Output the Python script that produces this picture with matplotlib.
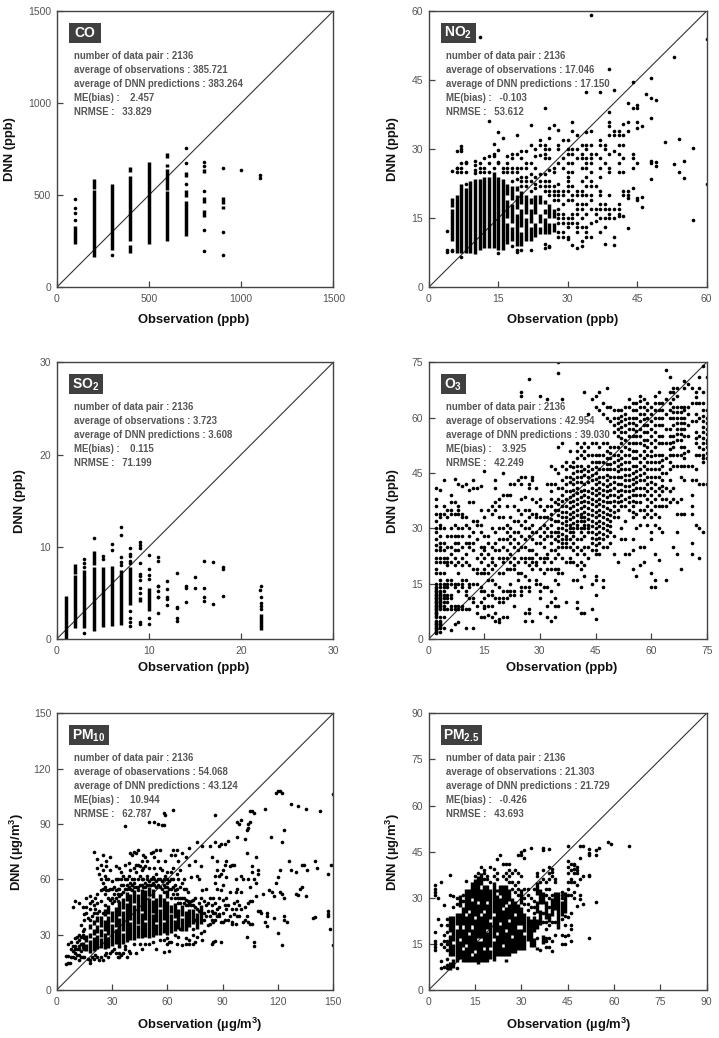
"""Observation vs DNN scatter panels for six air pollutants."""
import matplotlib
matplotlib.use("Agg")
import matplotlib.pyplot as plt
from matplotlib.patches import Rectangle

plt.rcParams["font.family"] = ["Liberation Sans", "DejaVu Sans"]
plt.rcParams["mathtext.fontset"] = "custom"
plt.rcParams["mathtext.rm"] = "Liberation Sans"
plt.rcParams["mathtext.bf"] = "Liberation Sans:bold"

FIG_W, FIG_H = 719, 1038
DOT = 2.6
BAR = 2.5

# solid runs of overlapping dots: (obs, low, high)
co_runs = [(100, 235, 335), (200, 165, 530), (200, 535, 590), (300, 205, 560),
           (400, 185, 230), (400, 250, 605), (400, 625, 655), (500, 235, 680),
           (600, 250, 525), (600, 530, 640), (600, 655, 670), (600, 700, 730),
           (700, 280, 470), (700, 490, 530), (700, 600, 625),
           (800, 380, 420), (800, 456, 490), (800, 620, 640), (900, 425, 440), (900, 450, 490)]
co_points = {100: [365, 402, 429, 480], 300: [175], 700: [560, 673, 755],
             800: [195, 310, 523, 660, 678], 900: [175, 300, 645], 1000: [635], 1100: [595, 607]}

no2_runs = [(5, 10, 17), (5, 17.5, 19.5), (6, 7.5, 20), (7, 7.5, 22.5), (8, 7.5, 21.5), (9, 7.5, 23),
            (10, 7.2, 23.5), (11, 8, 23.5), (12, 8.5, 24), (13, 8.5, 24), (14, 8.5, 25), (15, 8, 24),
            (16, 8, 23.5), (17, 9.5, 14), (17, 15, 19), (17, 20, 22.5), (18, 10, 13), (18, 14, 18), (18, 19, 22),
            (19, 9, 16), (19, 17, 20), (19, 21, 22), (20, 9, 12), (20, 13, 17), (20, 18, 21), (21, 10, 15),
            (21, 16, 20), (22, 10, 13), (22, 14, 17), (22, 18, 19.5), (23, 11, 14), (23, 16, 20), (24, 11.5, 13),
            (24, 14, 16), (24, 18, 20), (25, 11.5, 15), (25, 16, 17), (25, 18, 19), (26, 11.5, 14), (26, 15, 18),
            (27, 12, 14), (27, 15, 17)]
no2_points = {
    4: [7.7, 8, 12.3], 5: [7.8, 8, 25.3], 6: [25, 25.8, 26, 29.6],
    7: [6.6, 25, 26, 27, 29.5, 30, 30.7], 8: [22.4, 25, 27, 27.3], 10: [24.8, 25.5, 26.5, 27.5],
    11: [25, 26, 27, 54.3], 12: [25, 26, 28], 13: [25, 27, 28.5, 36.2], 14: [26, 28.5, 29, 31.2],
    15: [7.5, 27, 27.3, 29.8, 33.8], 16: [25, 26, 32.5], 17: [25, 26, 27, 28.5],
    18: [9, 23, 25, 26, 28, 29], 19: [7.7, 8.2, 23.5, 25, 26, 29, 33], 20: [8.2, 22, 23, 24, 26, 28, 29.5],
    21: [22, 23, 24, 26, 27, 29.7], 22: [8.2, 21, 23, 24.5, 27, 31, 35.3], 23: [21.5, 22.5, 24, 26, 28.5, 30],
    24: [22, 23, 24.7, 28.7, 31, 32], 25: [8.5, 9.5, 21, 22, 23, 24.5, 28, 29, 30, 31, 39],
    26: [8.8, 9, 20, 21, 22, 23, 25.5, 28, 30, 32.5, 34.5], 27: [19, 20, 21, 22, 25, 26, 35.2],
    28: [11, 12, 14, 15, 16, 17, 19, 20, 21, 22.5, 27, 30, 31, 34.2],
    29: [11, 12, 14, 15, 16, 18, 20, 21, 26, 28, 32],
    30: [10.5, 11, 13, 14, 15, 19, 21, 22, 23, 24, 25, 27, 29, 30, 32],
    31: [9.2, 14, 15, 16, 19, 20, 22, 25, 27, 29, 30, 34, 36],
    32: [8.5, 12, 13, 14, 16, 17, 18, 20, 21, 28, 30, 33],
    33: [9, 10, 13, 15, 17, 18, 20, 21, 23, 26, 28, 29, 31],
    34: [11, 12, 13, 16, 18, 20, 22, 24, 26, 27, 28, 30, 31, 33.8, 42.5],
    35: [11, 14, 17, 19, 20, 22, 23, 25, 27, 28, 29, 31, 34, 59.2], 36: [14.5, 16, 17, 22, 29],
    37: [12, 15, 17, 18, 20, 21, 24, 26, 28, 31, 32, 42.5], 38: [9.3, 13, 15, 17, 18, 27, 30, 31],
    39: [15, 16, 17, 20, 25, 26, 29, 33, 35, 36, 38, 47.5], 40: [9.2, 11, 15, 17, 29.5, 33, 34, 42.8],
    41: [15.5, 16, 17, 18, 25, 27, 29, 31, 33, 34], 42: [15.5, 20, 21, 25, 28, 31, 33, 35.5],
    43: [12.8, 19.5, 20, 21, 34, 36, 40], 44: [21.5, 26, 28, 29, 39, 44.5],
    45: [19, 19.5, 27, 34.5, 36, 39, 39.5], 46: [17.5, 19.7, 35], 47: [42],
    48: [23.5, 27, 27.5, 36.7, 41, 45.5], 49: [26.3, 27.3, 40.7], 51: [31.5], 53: [26.7, 50],
    54: [25, 32.2], 55: [23.7, 27.5], 57: [14.6, 30.3], 60: [22.5, 54]}

so2_runs = [(1, 0, 4.7), (2, 1.2, 6.9), (2, 7.1, 8.1), (3, 1.2, 7.5), (4, 0.9, 7.8), (4, 8, 9.5),
            (5, 1.3, 7.8), (6, 1.4, 7.9), (7, 1.5, 7.5), (8, 3.7, 7.8), (9, 4, 4.6), (10, 3, 5.5),
            (22.2, 1, 2.7)]
so2_points = {
    3: [0.7, 7.8, 8.2, 8.7], 4: [10.9], 5: [8.7, 9], 6: [9.6, 10.3], 7: [8, 8.4, 8.9, 11.3, 12.1],
    8: [1.4, 1.8, 2.3, 3, 8.2, 8.5, 9, 9.2, 9.9], 9: [1.6, 1.8, 5, 5.5, 6.4, 6.8, 7.1, 8.2, 9.9, 10.2, 10.5],
    10: [1.6, 2.3, 6.5, 6.9, 7.6, 9.1], 11: [2.8, 4.5, 4.6, 5.2, 5.7, 5.8, 8.5, 8.9],
    12: [3.7, 4.3, 4.6, 5.4, 6.3], 13: [2, 2.3, 3.4, 3.5, 7.2], 14: [4, 5.5, 5.7], 15: [5.5, 6.7],
    16: [4.1, 4.5, 5.5, 8.5], 17: [3.8, 8.4], 18: [4.7, 7.6, 7.8], 22: [5.3], 22.2: [3.3, 3.6, 3.9, 4.5, 5.7]}

o3_runs = [(2, 2, 5), (2, 6, 14), (3, 3, 5), (3, 8, 13)]
o3_points = {
    2: [41, 38, 36, 34, 32, 30, 29, 27, 25.5, 24, 22, 21, 19, 18, 15, 14, 13, 12, 11, 10, 9, 8, 7, 6, 5, 4, 3, 2, 1.5],
    3: [40.5, 34, 33, 31, 30, 28, 26, 25, 24, 22, 21, 18, 16, 15, 14, 13, 12, 11, 10, 9, 8, 6, 5, 4, 3, 2],
    4: [43, 36, 34, 30, 26, 24, 22, 21, 18, 15, 14, 13, 12, 11, 10, 9, 8, 6, 3],
    5: [35, 33, 28, 25, 22, 21, 20, 16, 15, 14, 12, 11, 10, 8],
    6: [39, 37, 35, 34, 30, 28, 25, 23, 21, 16, 15, 12, 11, 9, 8, 2.5],
    7: [43.5, 37, 34, 31, 28, 26, 24, 22, 20, 15, 14, 9, 8, 4],
    8: [42, 36, 35, 34, 30, 28, 26, 24, 21, 18, 15, 13, 9, 8, 4.5],
    9: [41.5, 34, 33, 30, 28, 25, 22, 20, 16, 15, 14, 9, 8],
    10: [42, 33, 31, 26, 23, 21, 16, 13, 12, 8, 3],
    11: [40.5, 37, 30, 28, 26, 25, 20, 15, 14, 11, 8],
    12: [43, 41, 37, 32, 29, 26, 24, 19, 15, 11, 10, 3],
    13: [41, 32, 31, 27, 22, 19, 18, 15, 9, 7],
    14: [41.5, 35, 31, 29, 25, 23, 21, 18, 14, 13, 10, 6],
    15: [45.5, 33, 28, 25, 24, 22, 19, 18, 13, 11, 9, 8.5, 6],
    16: [35, 28, 26, 23, 20, 18, 16, 12, 9, 6.5],
    17: [36, 34, 30, 25, 22, 21, 19, 16, 13, 12, 9, 6],
    18: [43, 41, 37, 35, 29, 26, 24, 20, 15, 11, 7, 5],
    19: [38, 36, 33, 30, 27, 24, 22, 18, 14, 11, 10, 5.5, 4.5],
    20: [45, 39, 33, 30, 27, 25, 22, 21, 18, 13, 11, 10, 6],
    21: [39, 36, 31, 29, 27, 24, 22, 19, 13, 11, 6],
    22: [42, 39, 33, 30, 28, 26, 23, 21, 19, 15, 13, 12],
    23: [42, 36, 32, 29, 27, 25, 22, 20, 19, 13, 12, 9],
    24: [43, 35, 32, 29, 26, 24, 21, 18, 16],
    25: [67, 66, 44, 42, 38, 34, 31, 28, 25, 22, 18, 14, 13, 12],
    26: [44, 38.5, 35, 32, 30, 27, 25, 22, 21, 17, 14, 7, 5],
    27: [70.5, 42, 41, 35, 33, 30, 28, 24, 22, 20, 16, 14, 13, 8, 7],
    28: [44, 43, 38, 34, 31, 29, 27, 24, 22, 21, 19, 5],
    29: [41, 37, 34, 33, 29, 26, 23, 21, 20, 16, 15],
    30: [66, 38, 36, 33, 30, 28, 26, 22, 19, 15, 13, 11, 7],
    31: [35, 33, 31, 29, 27, 25, 22, 21, 18, 14],
    32: [65, 42, 36, 33, 30, 28, 23, 22, 19, 14, 9, 6],
    33: [47, 42, 40, 38, 36, 34, 32.5, 31, 29, 28, 26, 24, 21, 19, 13, 10, 5],
    34: [46, 42, 37, 35, 32, 29, 27, 24, 22, 19, 16, 11, 9, 6],
    35: [75, 72, 52, 45, 41, 38, 36.5, 35, 33.5, 32, 30, 29, 28, 26.5, 25, 23, 19, 18, 15, 9],
    36: [65, 53, 47, 43, 41, 39, 37.5, 36, 34.5, 33, 31.5, 30, 28.5, 27, 26, 25, 22, 18],
    37: [48, 46, 44, 42, 40, 38, 36, 34.5, 33, 32, 31, 29.5, 28, 27, 26, 25, 21, 10],
    38: [51, 47, 44, 42.5, 40, 38.5, 37, 35.5, 34, 32.5, 31, 30, 29, 27, 25, 22, 21],
    39: [48, 46.5, 45, 43.5, 42, 40.5, 39, 37.5, 36, 34.5, 33, 31.5, 30, 29, 28, 26, 24, 21, 16],
    40: [53, 51, 49, 47, 45.5, 44, 42.5, 41, 39.5, 38, 36.5, 35, 33.5, 32, 31, 30, 27, 25, 23, 20, 16, 10, 8.5],
    41: [52, 50, 47, 45.5, 44, 42.5, 40, 38.5, 37, 35.5, 34, 33, 32, 30, 29, 27, 24, 21, 19, 14, 7],
    42: [67, 53, 51, 49, 46, 44.5, 42, 40.5, 39, 37.5, 36, 34.5, 33, 32, 31, 30, 28, 25, 23, 20, 17, 7],
    43: [61, 52, 50, 47, 45.5, 44, 42.5, 40, 38.5, 37, 35.5, 34, 32.5, 31, 30, 29, 25, 22],
    44: [65, 53, 50, 48, 46, 44.5, 43, 41, 39.5, 38, 36.5, 35, 33.5, 32, 30.5, 29, 27.5, 26, 24, 15, 8],
    45: [66, 63, 53, 50, 48, 46.5, 45, 43.5, 42, 40.5, 39, 37.5, 36, 34.5, 33, 31.5, 30, 28.5, 27, 25.5, 24, 23, 17, 16, 12, 5.5],
    46: [67, 62, 52, 50, 48, 46, 44, 42.5, 41, 39.5, 38, 36.5, 35, 33.5, 32, 30.5, 29, 27.5, 26, 23],
    47: [64, 61, 53, 50, 48, 46, 44, 42, 40.5, 39, 37.5, 36, 34.5, 33, 31.5, 30, 28.5, 27, 25, 16, 14],
    48: [68, 63, 60, 53, 51, 49, 47.5, 46, 44.5, 43, 41.5, 40, 38.5, 37, 35.5, 34, 32.5, 31, 29.5, 28, 25],
    49: [63, 59, 52, 50.5, 49, 47.5, 46, 44, 42, 40.5, 39, 37, 35, 33.5, 32, 30.5, 29, 26],
    50: [62, 60, 58, 56, 52, 50, 48, 46, 44, 42.5, 41, 39, 37.5, 36, 34.5, 33, 28, 23],
    51: [62, 60, 58.5, 57, 55, 52, 50, 48.5, 47, 45.5, 44, 42, 40, 38.5, 37, 35, 33, 21],
    52: [62, 60.5, 59, 57.5, 56, 54.5, 53, 51, 49, 47.5, 46, 44, 42, 40.5, 39, 37.5, 36, 30, 27],
    53: [63, 61, 59.5, 58, 56, 54, 52, 50, 48, 46, 44.5, 43, 41.5, 40, 38, 36, 32, 27, 23],
    54: [65, 63, 60, 58.5, 57, 55, 53, 51.5, 50, 48, 46, 44.5, 43, 41.5, 40, 38.5, 37, 35, 23],
    55: [64, 62, 60, 58.5, 57, 55, 53, 51, 49, 47, 45, 43.5, 42, 40.5, 39, 37.5, 36, 34.5, 33, 27, 24, 19],
    56: [64, 62, 60, 58, 56.5, 55, 53, 51, 49, 47, 45.5, 44, 42.5, 41, 39, 37, 34, 30, 17],
    57: [66, 64.5, 63, 61, 59, 57, 55, 53, 50, 48, 46, 44.5, 43, 41, 39, 37, 35, 31, 25, 20],
    58: [65, 63, 61, 59.5, 58, 56, 54, 52.5, 51, 49, 47, 45, 43, 41, 39, 35, 33, 25, 21],
    59: [64, 62, 60, 58, 56, 54, 52, 50, 48, 46, 44, 42, 40, 38, 36, 34, 31],
    60: [63, 61, 59, 57, 55, 53, 51, 49.5, 48, 46, 44, 42.5, 41, 39, 37, 35, 33, 29, 27, 18, 14],
    61: [66, 64, 62, 60, 58, 56, 54, 52, 50, 48, 46, 44, 42, 40, 38, 36, 34, 31, 23, 16, 14],
    62: [67, 64, 62, 60, 58, 55, 53, 50, 48, 46, 44, 41, 39, 36, 33, 30, 21.5],
    63: [64, 62, 60, 58, 55, 53, 50, 48.5, 47, 45, 43, 41.5, 40, 38, 36, 29],
    64: [73, 65, 61, 57, 53, 49, 45, 41, 38, 36, 16],
    65: [71, 67, 64, 62, 60, 57, 55, 53, 51.5, 50, 48, 46, 43, 40, 37],
    66: [68, 67, 65, 63, 61.5, 60, 58, 55, 53.5, 52, 50, 47, 41, 38, 25],
    67: [68, 66, 63, 61.5, 60, 58.5, 57, 55.5, 54, 50, 47, 37, 34, 29, 23],
    68: [63, 61.5, 60, 58.5, 57, 55.5, 54, 52, 50, 47, 44, 38, 34, 19],
    69: [70, 68, 63, 62, 60, 58.5, 57, 55, 52, 50.5, 49, 47, 43, 34],
    70: [69, 63, 61, 58, 55, 51, 47],
    71: [68, 64, 59, 47, 43, 39, 36, 34, 26, 23],
    72: [67, 65.5, 64, 61, 59, 56, 54.5, 53, 50, 46, 43, 31],
    73: [71, 68, 64, 60, 55, 52, 50, 42, 30, 22],
    74: [74, 67, 64, 62, 60.5, 59, 57.5, 56, 54.5, 53, 51.5, 50, 49, 48, 42, 29],
    75: [71, 62, 60, 58.5, 57, 55.5, 54, 53, 52, 50.5, 49, 42]}

pm10_runs = [(14, 22, 26), (16, 21, 25), (16, 26, 30), (18, 20, 27), (18, 28, 31), (18, 33, 36), (20, 21, 29),
             (20, 30, 33), (20, 35, 38), (22, 22, 30), (22, 31, 35), (22, 37, 40), (24, 23, 28), (24, 29, 33),
             (24, 34, 40), (26, 22, 31), (26, 32, 38), (26, 40, 44), (28, 23, 29), (28, 30, 40), (28, 41, 46),
             (30, 24, 36), (30, 37, 43), (32, 25, 33), (32, 34, 45), (34, 23, 39), (34, 40, 48), (36, 25, 31),
             (36, 32, 43), (36, 44, 50), (38, 26, 47), (38, 48, 53), (40, 27, 37), (40, 38, 52), (42, 27, 46),
             (42, 47, 54), (44, 28, 35), (44, 36, 52), (46, 28, 42), (46, 43, 55), (48, 29, 37), (48, 38, 54),
             (50, 28, 50), (50, 51, 56), (52, 29, 41), (52, 42, 49), (52, 50, 55), (54, 30, 36), (54, 37, 50),
             (56, 30, 44), (56, 45, 52), (58, 31, 37), (58, 38, 50), (60, 30, 48), (60, 50, 54), (62, 31, 41),
             (62, 42, 46), (64, 32, 38), (64, 39, 47), (66, 33, 44), (68, 32, 39), (68, 40, 46), (70, 32, 43),
             (72, 34, 44), (74, 36, 44), (76, 33, 42), (78, 36, 46)]
pm10_points = [
    (5, 14), (6, 14.5), (7, 14.5), (5, 18.5), (6, 18.5), (6, 25), (8, 18), (8, 22), (8, 26), (9, 18), (9, 21), (9, 24),
    (9, 45), (10, 17.5), (10, 20), (10, 22), (10, 24), (10, 28), (10, 48), (11, 19), (11, 22), (11, 26), (11, 29),
    (12, 16), (12, 19), (12, 22), (12, 24), (12, 27), (12, 30), (12, 47), (13, 18), (13, 21), (13, 25), (13, 29),
    (13, 35), (14, 18), (14, 30), (14, 32), (14, 45), (15, 18), (15, 22), (15, 28), (15, 33), (15, 38),
    (15, 41), (16, 50), (16, 45), (16, 42), (17, 17), (17, 39), (18, 14.5), (18, 16), (18, 38), (18, 44), (18, 47),
    (18, 51), (19, 18), (19, 40), (19, 48), (20, 75), (20, 17), (20, 42), (20, 46), (21, 19), (21, 50), (21, 44),
    (22, 71), (22, 66), (22, 18), (22, 42), (22, 47), (22, 52), (23, 16.5), (23, 63), (23, 43), (24, 68), (24, 60),
    (24, 54), (24, 18), (24, 48), (25, 73), (25, 65), (25, 58), (25, 55), (25, 42), (25, 16), (26, 52), (26, 56),
    (26, 62), (26, 19), (26, 46), (27, 70), (27, 67), (27, 60), (27, 54), (27, 20), (28, 18), (28, 50), (28, 54),
    (28, 60), (29, 72), (29, 65), (29, 55), (29, 20), (29, 49), (30, 59), (30, 55), (30, 50), (30, 21), (30, 47),
    (31, 22), (31, 48), (31, 52), (31, 56), (32, 67), (32, 60), (32, 54), (32, 20), (32, 50), (33, 18), (33, 60),
    (33, 55), (33, 52), (33, 48), (34, 66), (34, 20), (34, 55), (34, 51), (34, 18), (35, 64), (35, 60), (35, 57),
    (35, 52), (35, 19), (36, 62), (36, 57), (36, 53), (36, 20), (37, 89), (37, 68), (37, 60), (37, 55), (37, 24),
    (37, 22), (38, 60), (38, 57), (38, 55), (38, 18), (39, 69), (39, 21), (39, 62), (39, 56), (40, 74), (40, 65),
    (40, 58), (40, 55), (40, 20), (41, 73), (41, 60), (41, 57), (41, 54), (42, 75), (42, 66), (42, 60), (42, 58),
    (42, 56), (42, 25), (43, 20), (43, 56), (43, 64), (43, 68), (43, 74), (44, 76), (44, 68), (44, 60), (44, 56),
    (44, 54), (45, 67), (45, 62), (45, 57), (45, 25), (46, 22), (46, 70), (46, 65), (46, 60), (46, 57), (47, 73),
    (47, 66), (47, 60), (47, 56), (48, 72), (48, 67), (48, 58), (48, 56), (48, 25), (49, 70), (49, 62), (49, 60),
    (49, 57), (50, 91), (50, 66), (50, 59), (50, 57), (50, 25), (51, 74), (51, 60), (51, 57), (52, 75), (52, 61),
    (52, 58), (52, 26), (53, 91), (53, 72), (53, 66), (53, 60), (53, 57), (54, 22), (54, 76), (54, 63), (54, 59),
    (54, 56), (55, 90), (55, 70), (55, 60), (55, 57), (56, 76), (56, 66), (56, 60), (56, 56), (56, 27), (57, 89.5),
    (57, 65), (57, 59), (57, 55), (58, 96), (58, 89.5), (58, 60), (58, 57), (58, 53), (58, 27), (58, 20.5), (59, 95),
    (59, 70), (59, 62), (59, 56), (60, 64), (60, 60), (60, 58), (60, 56), (60, 28), (60, 25), (61, 59), (61, 55),
    (61, 21), (61, 26), (62, 73), (62, 64), (62, 60), (62, 55), (62, 50), (62, 26), (63, 97.5), (63, 76), (63, 66),
    (63, 60), (63, 56), (63, 52), (64, 73), (64, 57), (64, 54), (64, 50), (64, 30), (65, 76), (65, 63), (65, 55),
    (65, 52), (65, 25), (66, 70), (66, 60), (66, 50), (66, 47), (66, 29), (67, 65), (67, 56), (67, 50), (67, 47),
    (67, 33), (68, 74), (68, 58), (68, 50), (68, 24.5), (69, 60), (69, 55), (69, 50), (69, 47), (70, 72), (70, 55),
    (70, 49), (70, 46), (70, 28), (70, 25), (71, 53), (71, 48), (71, 46), (72, 77), (72, 68), (72, 47), (72, 27),
    (72, 25), (73, 61), (73, 48), (73, 46), (74, 49), (74, 46), (74, 33), (74, 30), (74, 25), (75, 70), (75, 50),
    (75, 45), (75, 38), (75, 26), (76, 80), (76, 62), (76, 44), (76, 29), (77, 60), (77, 47), (77, 43), (78, 67),
    (78, 50), (78, 42), (78, 31), (79, 78), (79, 54), (79, 27), (80, 48), (80, 42), (80, 38), (80, 32), (81, 55),
    (81, 46), (81, 40), (82, 47), (82, 43), (82, 35), (83, 78), (83, 50), (83, 40), (83, 36), (84, 46), (84, 72),
    (84, 38), (84, 25), (84, 43), (85, 26), (85, 42), (85, 37), (85, 50), (86, 95), (86, 80), (86, 62), (86, 58),
    (86, 47), (86, 42), (86, 38), (86, 26.5), (87, 65), (87, 70), (87, 55), (87, 44), (87, 40), (88, 78), (88, 62),
    (88, 50), (88, 45), (88, 40), (88, 41), (89, 79), (89, 26), (89, 63), (89, 54), (89, 37), (90, 65), (90, 57),
    (90, 49), (90, 42), (90, 37), (91, 79), (91, 68), (91, 46), (91, 38), (92, 70), (92, 61), (92, 50), (92, 44),
    (93, 81), (93, 46), (93, 38), (94, 67), (94, 53), (94, 40), (95, 68), (95, 44), (95, 37), (95, 36), (96, 68),
    (96, 47), (96, 41), (97, 60), (97, 53), (97, 44), (97, 36), (98, 91), (98, 83), (98, 55), (98, 48), (98, 40),
    (99, 90), (99, 46), (99, 40), (100, 92), (100, 62), (100, 53), (100, 44), (101, 60), (101, 37), (102, 82),
    (102, 45), (102, 38), (103, 87), (103, 74), (103, 40), (103, 29), (104, 90), (104, 88), (104, 60), (104, 47),
    (104, 37), (105, 91), (105, 97), (105, 56), (105, 48), (105, 36), (106, 97), (106, 67), (106, 64), (106, 48),
    (106, 36), (107, 96), (107, 60), (107, 26), (107, 24), (108, 72), (108, 58), (108, 51), (109, 65), (109, 63),
    (109, 43), (110, 43), (111, 42), (112, 52), (113, 37), (113, 98), (114, 42), (114, 40), (114, 34.5), (115, 54),
    (116, 83), (117, 53), (118, 51), (118, 39), (119, 58), (119, 107), (120, 108), (121, 108), (120, 61), (120, 31),
    (121, 53), (121, 65), (122, 107), (122, 80.5), (122, 24.5), (122, 52), (123, 50), (123, 40), (123, 86.5), (123, 38),
    (125, 37), (126, 70), (127, 101), (127, 65), (130, 52), (130, 64), (131, 99.5), (131, 51.5), (132, 55), (133, 56),
    (133, 68), (134, 68), (135, 98), (135, 51), (136, 65), (139, 39), (140, 39.5), (140, 70), (141, 66), (143, 97),
    (147, 63), (147, 43), (147, 41), (147, 40), (148, 33), (149, 68), (150, 106), (150, 24.5)]

pm25_runs = [(7, 6.5, 9), (7, 11, 18), (7, 19, 24), (8, 7, 10), (8, 11, 15), (8, 16, 24), (9, 9, 20), (9, 21, 25),
             (10, 10, 16), (10, 17, 25), (10, 27, 31), (11, 9, 13), (11, 14, 20), (11, 21, 27), (12, 9, 14), (12, 15, 24),
             (12, 25, 33), (13, 9, 18), (13, 19, 25), (13, 26, 33), (14, 9, 11), (14, 12, 20), (14, 21, 29), (14, 30, 35),
             (15, 9, 12), (15, 13, 23), (15, 24, 36), (16, 8.5, 16), (16, 17, 28), (16, 29, 37), (17, 9, 16), (17, 17, 24),
             (17, 25, 33), (17, 34, 38), (18, 9, 13), (18, 14, 25), (18, 26, 34), (19, 9, 19), (19, 20, 28), (19, 29, 34),
             (20, 10, 13), (20, 14, 22), (20, 23, 33), (21, 9.5, 16), (21, 17, 24), (21, 25, 35), (22, 11, 18), (22, 19, 31),
             (22, 32, 33), (23, 11, 21), (23, 22, 30), (23, 31, 34), (24, 11, 14), (24, 15, 26), (24, 27, 34), (25, 9, 10),
             (25, 11, 19), (25, 20, 27), (25, 28, 34), (26, 11, 22), (26, 23, 28), (26, 29, 33), (27, 12, 17), (27, 18, 30),
             (28, 12, 24), (28, 25, 29), (29, 13, 20), (29, 21, 28), (30, 13, 20), (30, 21, 27), (30, 28, 33), (31, 13, 18),
             (31, 19, 25), (32, 16, 24), (33, 14, 23), (34, 14, 17), (34, 19, 24), (35, 13, 14), (35, 20, 23), (35, 25, 29),
             (35, 31, 35), (36, 21, 26), (36, 28, 33), (37, 15, 18), (37, 28, 32), (38, 23, 29), (39, 22, 25), (40, 24, 30),
             (41, 26, 32), (42, 20, 32), (43, 24, 29), (44, 25, 32)]
pm25_points = {
    2: [13, 14, 15, 16, 19, 31, 32, 33, 34], 3: [23, 30], 4: [7, 9.5, 15, 21, 35], 5: [7.5, 14, 16, 18, 27.5],
    6: [7, 8, 10, 13, 15, 16, 19, 21, 23], 7: [31, 37.3], 8: [27, 30.5], 9: [7, 28, 30], 11: [29, 31],
    12: [35.5], 15: [37], 16: [38], 17: [40], 18: [36, 38, 39], 19: [36, 37], 20: [35, 40], 21: [37, 39.5],
    22: [36, 38, 42.5], 23: [44], 24: [37, 41], 25: [36, 38, 41], 26: [35, 37, 39, 41], 27: [33, 35, 38],
    28: [32, 34, 39], 29: [31, 33, 35, 38, 44], 30: [37, 44, 45], 31: [28, 30, 33, 43, 45.5],
    32: [26, 28, 31, 33], 33: [27, 30, 46.3], 34: [25, 27, 29, 33], 35: [17, 37, 38],
    36: [13, 35], 37: [22, 25, 36, 39, 45.5, 46.3], 38: [14, 16, 17, 20, 22, 31, 33, 35],
    39: [14, 17, 21, 27, 30, 33, 36, 38, 40, 46], 40: [12.7, 16, 22, 31, 37, 38.5, 39.5],
    41: [18, 22, 35, 36], 43: [15, 18, 23, 30, 31, 32], 44: [15, 17.5, 21, 24],
    45: [18, 23.7, 31, 33, 35, 38, 40, 42, 47], 46: [16, 20, 21, 25, 31, 35, 36, 39, 41],
    47: [30, 32, 35, 38, 39.5, 40.5, 41], 48: [27.3, 34, 38, 39, 40], 49: [29.5, 31, 36, 43, 47],
    50: [28, 37, 47], 52: [16.8, 37, 37.5, 44, 44.5, 46], 54: [28.7, 44, 45.5], 55: [46.3], 58: [48.2],
    59: [47.5], 65: [46.7]}

names = ["CO", "NO$_{\\mathbf{2}}$", "SO$_{\\mathbf{2}}$", "O$_{\\mathbf{3}}$", "PM$_{\\mathbf{10}}$", "PM$_{\\mathbf{2.5}}$"]
limits = [1500, 60, 30, 75, 150, 90]
ticks = [[0, 500, 1000, 1500], [0, 15, 30, 45, 60], [0, 10, 20, 30],
         [0, 15, 30, 45, 60, 75], [0, 30, 60, 90, 120, 150], [0, 15, 30, 45, 60, 75, 90]]
units = ["ppb", "ppb", "ppb", "ppb", "µg/m$^{\\mathbf{3}}$", "µg/m$^{\\mathbf{3}}$"]
averages_obs = ["obs 385.721", "obs 17.046", "obs 3.723", "obs 42.954", "obas 54.068", "obs 21.303"]
averages_dnn = ["383.264", "17.150", "3.608", "39.030", "43.124", "21.729"]
bias = ["   2.457", "  -0.103", "   0.115", "   3.925", "   10.944", "  -0.426"]
nrmse = ["33.829", "53.612", "71.199", "42.249", "62.787", "43.693"]

# pixel layout of each panel: left, right, top, bottom
frames = [(56.7, 333.3, 11, 287.3), (428.7, 706.7, 11, 287.3), (56.7, 333.3, 362.3, 639),
          (428.7, 706.7, 362.3, 639), (56.7, 333.3, 713.3, 990), (428.7, 706.7, 713.3, 990)]
box_widths = [32, 35, 34, 25, 40, 41]
ylabel_x = [10, 393, 20, 393, 17, 393]
xlabel_pos = [(194, 320), (562.7, 320), (194, 667.7), (562, 667.7), (200, 1025), (569, 1025)]


def draw_panel(fig, i, runs, points):
    """Draw one scatter panel."""
    left, right, top, bottom = frames[i]
    ax = fig.add_axes([left / FIG_W, 1 - bottom / FIG_H, (right - left) / FIG_W, (bottom - top) / FIG_H])
    lim = limits[i]
    ax.plot([0, lim], [0, lim], color="#333333", lw=0.8, zorder=1)
    ax.vlines([r[0] for r in runs], [r[1] for r in runs], [r[2] for r in runs],
              color="black", lw=BAR, capstyle="butt", zorder=2)
    ax.plot([p[0] for p in points], [p[1] for p in points], "o", color="black", ms=DOT, mew=0, zorder=2)
    ax.set_xlim(0, lim)
    ax.set_ylim(0, lim)
    ax.set_xticks(ticks[i])
    ax.set_yticks(ticks[i])
    ax.tick_params(direction="in", length=4, width=0.9, color="#444444", labelcolor="#555555",
                   labelsize=7.5, pad=4)
    ax.tick_params(axis="x", pad=5)
    for spine in ax.spines.values():
        spine.set_color("#444444")
        spine.set_linewidth(1.0)

    # name tag
    box_w = box_widths[i] / (right - left)
    ax.add_patch(Rectangle((0.043, 0.884), box_w, 0.073, transform=ax.transAxes,
                           color="#404040", lw=0, zorder=3))
    ax.text(0.043 + box_w / 2, 0.92, names[i], transform=ax.transAxes, color="white", fontsize=10,
            fontweight="bold", ha="center", va="center", zorder=4)

    kind, avg = averages_obs[i].split()
    word = "observations" if kind == "obs" else "obaservations"
    lines = ["number of data pair : 2136",
             f"average of {word} : {avg}",
             f"average of DNN predictions : {averages_dnn[i]}",
             f"ME(bias) : {bias[i]}",
             f"NRMSE :   {nrmse[i]}"]
    for k, line in enumerate(lines):
        ax.text(0.0625, 0.838 - k * 0.0505, line, transform=ax.transAxes, color="#555555",
                fontsize=6.9, fontweight="bold", va="center", zorder=4)

    fig.text(ylabel_x[i] / FIG_W, 1 - (top + bottom) / 2 / FIG_H, f"DNN ({units[i]})", rotation=90,
             fontsize=9.4, fontweight="bold", ha="center", va="center", color="#111111")
    fig.text(xlabel_pos[i][0] / FIG_W, 1 - xlabel_pos[i][1] / FIG_H, f"Observation ({units[i]})",
             fontsize=9.4, fontweight="bold", ha="center", va="center", color="#111111")


def expand(columns):
    """Turn {obs: [dnn, ...]} into (obs, dnn) pairs."""
    return [(x, y) for x, ys in columns.items() for y in ys]


def main():
    """Main."""
    fig = plt.figure(figsize=(FIG_W / 100, FIG_H / 100), dpi=100)
    draw_panel(fig, 0, co_runs, expand(co_points))
    draw_panel(fig, 1, no2_runs, expand(no2_points))
    draw_panel(fig, 2, so2_runs, expand(so2_points))
    draw_panel(fig, 3, o3_runs, expand(o3_points))
    draw_panel(fig, 4, pm10_runs, pm10_points)
    draw_panel(fig, 5, pm25_runs, expand(pm25_points))
    fig.savefig("out.png", dpi=100)
    plt.close(fig)


if __name__ == "__main__":
    main()
